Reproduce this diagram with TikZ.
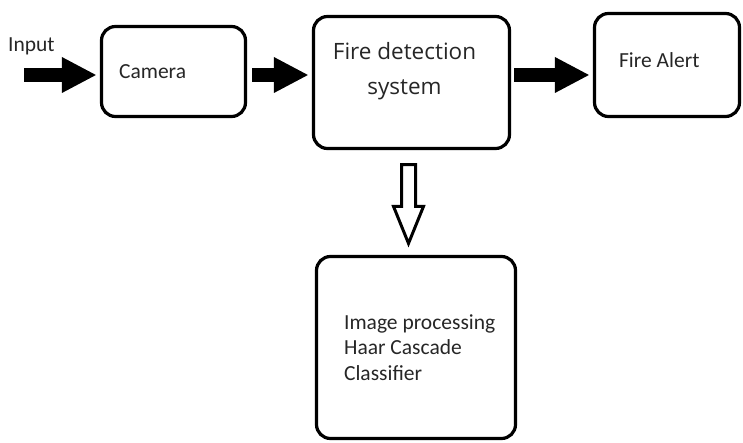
\documentclass[tikz,border=0pt]{standalone}
\usepackage{fontspec}
\setmainfont{Carlito}
\newfontfamily\fdsfont{Open Sans}
\usetikzlibrary{arrows.meta,positioning,calc}
\tikzstyle{block}=[draw, line width=3.2pt, rounded corners=14pt, inner sep=0pt]
\tikzstyle{blocktext}=[inner sep=0pt, text=black!85, align=left, font=\fontsize{21.5}{25.5}\selectfont]
\tikzstyle{fatarrow}=[line width=14pt, -{Triangle[length=34pt,width=36pt,line width=0pt]}, shorten >=4pt]
\newcommand{\hollowarrow}[2]{% Syntax: {start anchor}{end anchor}, hollow arrow pointing down
\draw[line width=3pt, fill=white] let \p1=(#1), \p2=(#2) in
  (\x1-10pt,\y1-14.5pt) -- (\x1+4pt,\y1-14.5pt) -- (\x1+4pt,\y2+48.5pt) -- (\x1+12pt,\y2+48.5pt)
  -- (\x1-3pt,\y2+11.5pt) -- (\x1-18pt,\y2+48.5pt) -- (\x1-10pt,\y2+48.5pt) -- cycle;
}
\begin{document}
\begin{tikzpicture}[x=1pt,y=-1pt]
\useasboundingbox (0,0) rectangle (743,443);
% boxes, sizes measured on the line centres
\node[block, minimum width=144pt, minimum height=90pt] (cam) at (173.5,71.5) {};
\node[block, minimum width=196pt, minimum height=132pt] (fds) at (411.5,82.5) {};
\node[block, minimum width=145pt, minimum height=103pt] (alert) at (667,65) {};
\node[block, minimum width=199pt, minimum height=182pt] (ipc) at (416,347.5) {};
% texts
\node[blocktext, right=19pt of cam.west] (camtext) {Camera};
\node[blocktext, align=center, below=27pt of fds.north, xshift=-7pt, font=\fdsfont\fontsize{22.5}{35}\selectfont] (fdstext) {Fire detection\\system};
\node[blocktext, right=26pt of alert.west, yshift=4.5pt] (alerttext) {Fire Alert};
\node[blocktext, right=29pt of ipc.west] (ipctext) {Image processing\\Haar Cascade\\Classifier};
\node[blocktext, anchor=base west] (input) at (8,52) {Input};
% arrows
\coordinate (in) at (24,75);
\draw[fatarrow] (in) -- (in -| cam.west);
\draw[fatarrow, shorten <=5pt] (in -| cam.east) -- (in -| fds.west);
\draw[fatarrow, shorten <=3pt] (in -| fds.east) -- (in -| alert.west);
\hollowarrow{fds.south}{ipc.north}
\end{tikzpicture}
\end{document}
